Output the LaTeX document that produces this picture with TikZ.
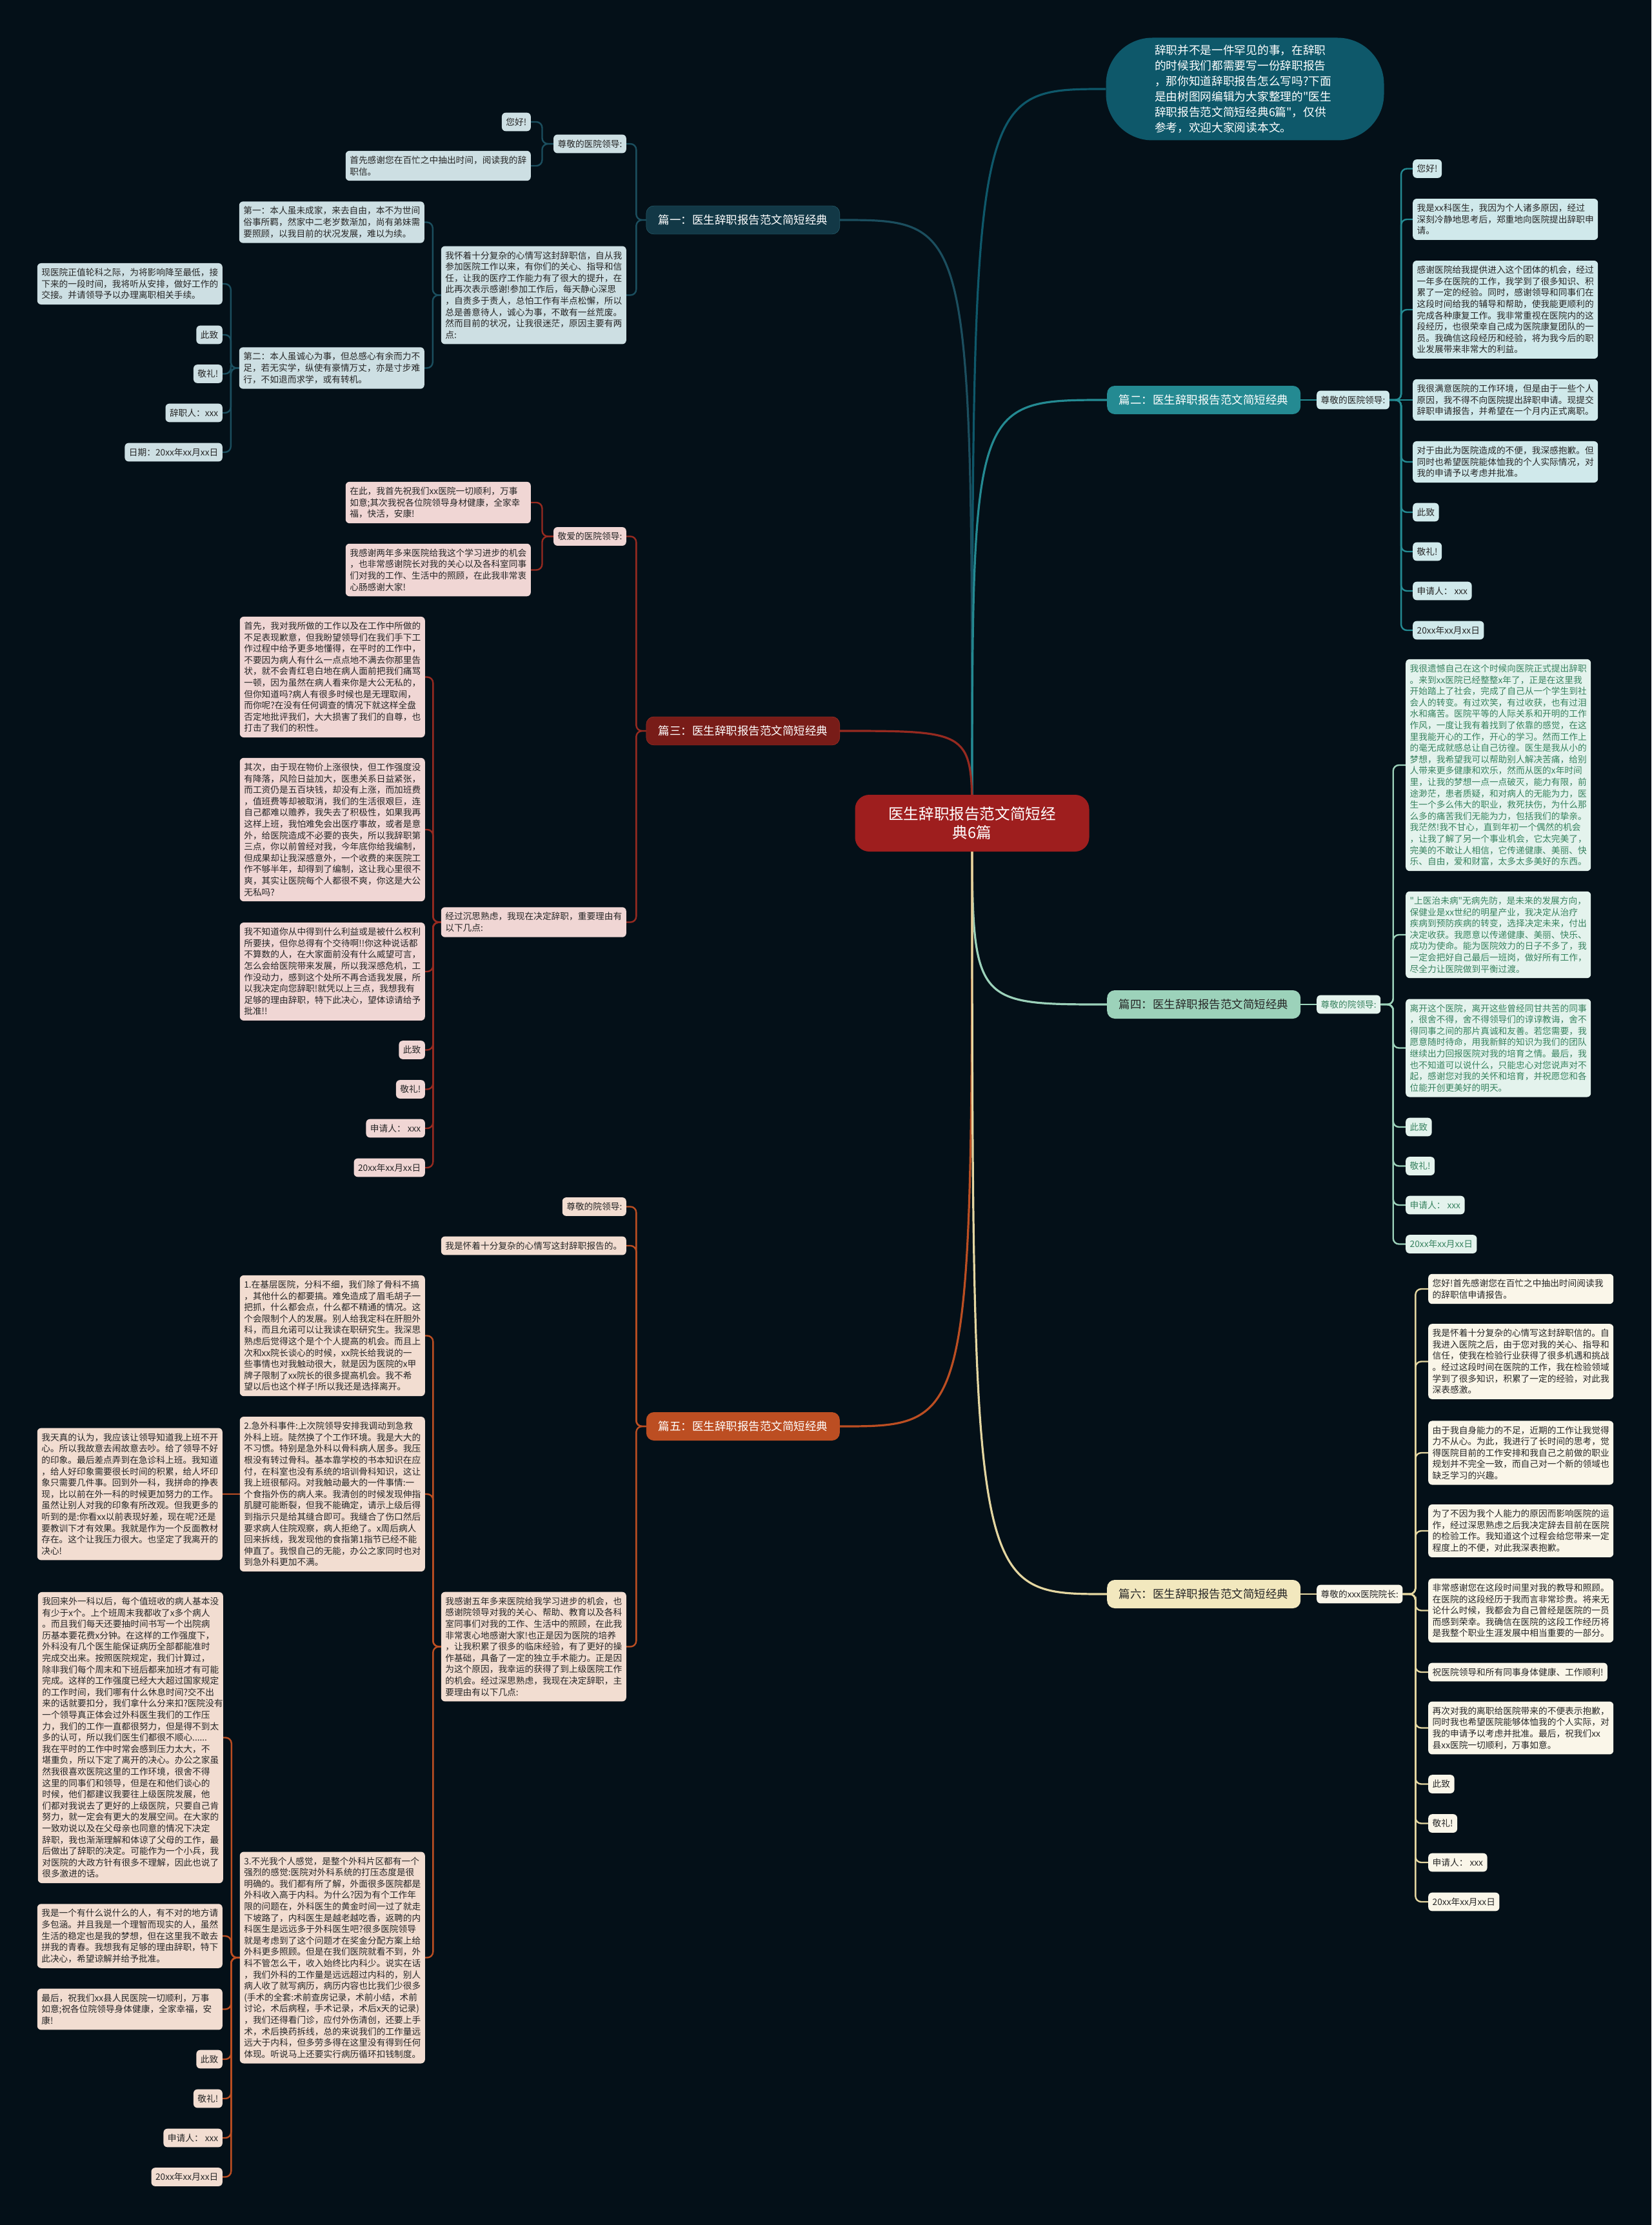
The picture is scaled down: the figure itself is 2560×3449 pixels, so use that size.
\documentclass[tikz,border=0pt]{standalone}
\usepackage{fontspec}
\setmainfont{Noto Sans CJK SC}
\usetikzlibrary{calc}

\definecolor{bgc}{RGB}{4,16,24}
\definecolor{ink}{RGB}{38,38,38}
\definecolor{ctrc}{RGB}{158,30,30}
\definecolor{introc}{RGB}{14,88,106}
\definecolor{lnA}{RGB}{27,78,94}
\definecolor{ndA}{RGB}{18,56,70}
\definecolor{lfA}{RGB}{205,223,227}
\definecolor{lnB}{RGB}{36,138,146}
\definecolor{lfB}{RGB}{208,233,235}
\definecolor{lnC}{RGB}{150,42,32}
\definecolor{ndC}{RGB}{120,28,24}
\definecolor{lfC}{RGB}{240,214,212}
\definecolor{lnD}{RGB}{156,210,186}
\definecolor{lfD}{RGB}{228,243,237}
\definecolor{txD}{RGB}{55,130,95}
\definecolor{lnE}{RGB}{188,78,34}
\definecolor{lfE}{RGB}{242,221,209}
\definecolor{lnF}{RGB}{228,214,160}
\definecolor{ndF}{RGB}{242,232,190}
\definecolor{lfF}{RGB}{250,246,233}

\pgfdeclarelayer{bg}
\pgfdeclarelayer{lines}
\pgfsetlayers{bg,lines,main}

\begin{document}
\begin{tikzpicture}[x=1pt,y=-1pt,
    leaf/.style={rounded corners=6pt, inner xsep=6.5pt, inner ysep=8pt, text=ink,
      font=\fontsize{13.7pt}{17.6pt}\selectfont},
    para/.style={leaf, text width=274pt, align=left},
    pian/.style={rounded corners=12pt, minimum width=300pt, minimum height=44pt,
      font=\fontsize{17.5pt}{21pt}\selectfont},
    link/.style={rounded corners=9pt, line width=2.4pt},
    mainline/.style={line width=3.2pt}]

    \useasboundingbox (0,0) rectangle (2560,3449);
    \begin{pgfonlayer}{bg}
      \fill[bgc] (0,0) rectangle (2560,3449);
    \end{pgfonlayer}

    % 中心主题
    \node[fill=ctrc, text=white, rounded corners=22pt, minimum width=363pt, minimum height=88pt,
      align=center, font=\fontsize{23.6pt}{29pt}\selectfont] (ctr) at (1507,1276) {医生辞职报告范文简短经\\典6篇};

    % 导语
    \node[fill=introc, text=white, rounded corners=72pt, minimum width=431pt, minimum height=159pt,
      text width=280pt, align=left, font=\fontsize{17.7pt}{24pt}\selectfont] (intro) at (1930,138)
      {辞职并不是一件罕见的事，在辞职\\
       的时候我们都需要写一份辞职报告\\
       ，那你知道辞职报告怎么写吗?下面\\
       是由树图网编辑为大家整理的\textquotedbl 医生\\
       辞职报告范文简短经典6篇\textquotedbl ，仅供\\
       参考，欢迎大家阅读本文。};

    % 六篇
    \node[pian, fill=ndA, draw={rgb,255:red,45;green,105;blue,120}, text=white, anchor=east] (b1) at (1302,341) {篇一：医生辞职报告范文简短经典};
    \node[pian, fill=lnB, text=white, anchor=west] (b2) at (1716,620) {篇二：医生辞职报告范文简短经典};
    \node[pian, fill=ndC, draw={rgb,255:red,175;green,55;blue,42}, text=white, anchor=east] (b3) at (1302,1133) {篇三：医生辞职报告范文简短经典};
    \node[pian, fill=lnD, text=ink, anchor=west] (b4) at (1716,1557) {篇四：医生辞职报告范文简短经典};
    \node[pian, fill=lnE, text=white, anchor=east] (b5) at (1302,2211) {篇五：医生辞职报告范文简短经典};
    \node[pian, fill=ndF, text=ink, anchor=west] (b6) at (1716,2471) {篇六：医生辞职报告范文简短经典};

    % 篇一
    \node[leaf, fill=lfA, anchor=east] (s11) at (971,223) {尊敬的医院领导:};
    \node[leaf, fill=lfA, anchor=east] (a111) at (823,189) {您好!};
    \node[para, fill=lfA, anchor=east] (a112) at (823,257) {首先感谢您在百忙之中抽出时间，阅读我的辞\\职信。};
    \node[para, fill=lfA, anchor=east] (s12) at (971,457.5) {我怀着十分复杂的心情写这封辞职信，自从我\\
      参加医院工作以来，有你们的关心、指导和信\\
      任，让我的医疗工作能力有了很大的提升，在\\
      此再次表示感谢!参加工作后，每天静心深思\\
      ，自责多于责人，总怕工作有半点松懈，所以\\
      总是善意待人，诚心为事，不敢有一丝荒废。\\
      然而目前的状况，让我很迷茫，原因主要有两\\
      点:};
    \node[para, fill=lfA, anchor=east] (a121) at (658,344.5) {第一：本人虽未成家，来去自由，本不为世间\\
      俗事所羁，然家中二老岁数渐加，尚有弟妹需\\
      要照顾，以我目前的状况发展，难以为续。};
    \node[para, fill=lfA, anchor=east] (a122) at (658,570.5) {第二：本人虽诚心为事，但总感心有余而力不\\
      足，若无实学，纵使有豪情万丈，亦是寸步难\\
      行，不如退而求学，或有转机。};
    \node[para, fill=lfA, anchor=east] (a1221) at (345,440) {现医院正值轮科之际，为将影响降至最低，接\\
      下来的一段时间，我将听从安排，做好工作的\\
      交接。并请领导予以办理离职相关手续。};
    \node[leaf, fill=lfA, anchor=east] (a1222) at (345,519) {此致};
    \node[leaf, fill=lfA, anchor=east] (a1223) at (345,579.5) {敬礼!};
    \node[leaf, fill=lfA, anchor=east] (a1224) at (345,640) {辞职人：xxx};
    \node[leaf, fill=lfA, anchor=east] (a1225) at (345,701) {日期：20xx年xx月xx日};

    % 篇二
    \node[leaf, fill=lfB, anchor=west] (s21) at (2041,620) {尊敬的医院领导:};
    \node[leaf, fill=lfB, anchor=west] (a21) at (2190,261.5) {您好!};
    \node[para, fill=lfB, anchor=west] (a22) at (2190,340) {我是xx科医生，我因为个人诸多原因，经过\\
      深刻冷静地思考后，郑重地向医院提出辞职申\\
      请。};
    \node[para, fill=lfB, anchor=west] (a23) at (2190,480) {感谢医院给我提供进入这个团体的机会，经过\\
      一年多在医院的工作，我学到了很多知识、积\\
      累了一定的经验。同时，感谢领导和同事们在\\
      这段时间给我的辅导和帮助，使我能更顺利的\\
      完成各种康复工作。我非常重视在医院内的这\\
      段经历，也很荣幸自己成为医院康复团队的一\\
      员。我确信这段经历和经验，将为我今后的职\\
      业发展带来非常大的利益。};
    \node[para, fill=lfB, anchor=west] (a24) at (2190,620) {我很满意医院的工作环境，但是由于一些个人\\
      原因，我不得不向医院提出辞职申请。现提交\\
      辞职申请报告，并希望在一个月内正式离职。};
    \node[para, fill=lfB, anchor=west] (a25) at (2190,716) {对于由此为医院造成的不便，我深感抱歉。但\\
      同时也希望医院能体恤我的个人实际情况，对\\
      我的申请予以考虑并批准。};
    \node[leaf, fill=lfB, anchor=west] (a26) at (2190,794) {此致};
    \node[leaf, fill=lfB, anchor=west] (a27) at (2190,855) {敬礼!};
    \node[leaf, fill=lfB, anchor=west] (a28) at (2190,916) {申请人： xxx};
    \node[leaf, fill=lfB, anchor=west] (a29) at (2190,977) {20xx年xx月xx日};

    % 篇三
    \node[leaf, fill=lfC, anchor=east] (s31) at (971,831.5) {敬爱的医院领导:};
    \node[para, fill=lfC, anchor=east] (a311) at (823,779) {在此，我首先祝我们xx医院一切顺利，万事\\
      如意;其次我祝各位院领导身材健康，全家幸\\
      福，快活，安康!};
    \node[para, fill=lfC, anchor=east] (a312) at (823,883.5) {我感谢两年多来医院给我这个学习进步的机会\\
      ，也非常感谢院长对我的关心以及各科室同事\\
      们对我的工作、生活中的照顾，在此我非常衷\\
      心肠感谢大家!};
    \node[para, fill=lfC, anchor=east] (s32) at (971,1429.5) {经过沉思熟虑，我现在决定辞职，重要理由有\\
      以下几点:};
    \node[para, fill=lfC, anchor=east] (a321) at (659,1049.5) {首先，我对我所做的工作以及在工作中所做的\\
      不足表现歉意，但我盼望领导们在我们手下工\\
      作过程中给予更多地懂得，在平时的工作中，\\
      不要因为病人有什么一点点地不满去你那里告\\
      状，就不会青红皂白地在病人面前把我们痛骂\\
      一顿，因为虽然在病人看来你是大公无私的，\\
      但你知道吗?病人有很多时候也是无理取闹，\\
      而你呢?在没有任何调查的情况下就这样全盘\\
      否定地批评我们，大大损害了我们的自尊，也\\
      打击了我们的积性。};
    \node[para, fill=lfC, anchor=east] (a322) at (659,1286) {其次，由于现在物价上涨很快，但工作强度没\\
      有降落，风险日益加大，医患关系日益紧张，\\
      而工资仍是五百块钱，却没有上涨，而加班费\\
      ，值班费等却被取消，我们的生活很艰巨，连\\
      自己都难以赡养，我失去了积极性，如果我再\\
      这样上班，我怕难免会出医疗事故，或者是意\\
      外，给医院造成不必要的丧失，所以我辞职第\\
      三点，你以前曾经对我，今年底你给我编制，\\
      但成果却让我深感意外，一个收费的来医院工\\
      作不够半年，却得到了编制，这让我心里很不\\
      爽，其实让医院每个人都很不爽，你这是大公\\
      无私吗?};
    \node[para, fill=lfC, anchor=east] (a323) at (659,1506) {我不知道你从中得到什么利益或是被什么权利\\
      所要挟，但你总得有个交待啊!!你这种说话都\\
      不算数的人，在大家面前没有什么威望可言，\\
      怎么会给医院带来发展，所以我深感危机，工\\
      作没动力，感到这个处所不再合适我发展，所\\
      以我决定向您辞职!就凭以上三点，我想我有\\
      足够的理由辞职，特下此决心，望体谅请给予\\
      批准!!};
    \node[leaf, fill=lfC, anchor=east] (a324) at (659,1627.5) {此致};
    \node[leaf, fill=lfC, anchor=east] (a325) at (659,1688.5) {敬礼!};
    \node[leaf, fill=lfC, anchor=east] (a326) at (659,1749) {申请人： xxx};
    \node[leaf, fill=lfC, anchor=east] (a327) at (659,1810) {20xx年xx月xx日};

    % 篇四
    \node[leaf, fill=lfD, text=txD, anchor=west] (s41) at (2041,1557) {尊敬的院领导:};
    \node[para, fill=lfD, text=txD, anchor=west] (a41) at (2179,1186) {我很遗憾自己在这个时候向医院正式提出辞职\\
      。来到xx医院已经整整x年了，正是在这里我\\
      开始踏上了社会，完成了自己从一个学生到社\\
      会人的转变。有过欢笑，有过收获，也有过泪\\
      水和痛苦。医院平等的人际关系和开明的工作\\
      作风，一度让我有着找到了依靠的感觉，在这\\
      里我能开心的工作，开心的学习。然而工作上\\
      的毫无成就感总让自己彷徨。医生是我从小的\\
      梦想，我希望我可以帮助别人解决苦痛，给别\\
      人带来更多健康和欢乐，然而从医的x年时间\\
      里，让我的梦想一点一点破灭，能力有限，前\\
      途渺茫，患者质疑，和对病人的无能为力，医\\
      生一个多么伟大的职业，救死扶伤，为什么那\\
      么多的痛苦我们无能为力，包括我们的挚亲。\\
      我茫然!我不甘心，直到年初一个偶然的机会\\
      ，让我了解了另一个事业机会，它太完美了，\\
      完美的不敢让人相信，它传递健康、美丽、快\\
      乐、自由，爱和财富，太多太多美好的东西。};
    \node[para, fill=lfD, text=txD, anchor=west] (a42) at (2179,1449) {\textquotedbl 上医治未病\textquotedbl 无病先防，是未来的发展方向，\\
      保健业是xx世纪的明星产业，我决定从治疗\\
      疾病到预防疾病的转变，选择决定未来，付出\\
      决定收获。我愿意以传递健康、美丽、快乐、\\
      成功为使命。能为医院效力的日子不多了，我\\
      一定会把好自己最后一班岗，做好所有工作，\\
      尽全力让医院做到平衡过渡。};
    \node[para, fill=lfD, text=txD, anchor=west] (a43) at (2179,1624.5) {离开这个医院，离开这些曾经同甘共苦的同事\\
      ，很舍不得，舍不得领导们的谆谆教诲，舍不\\
      得同事之间的那片真诚和友善。若您需要，我\\
      愿意随时待命，用我新鲜的知识为我们的团队\\
      继续出力回报医院对我的培育之情。最后，我\\
      也不知道可以说什么，只能忠心对您说声对不\\
      起，感谢您对我的关怀和培育，并祝愿您和各\\
      位能开创更美好的明天。};
    \node[leaf, fill=lfD, text=txD, anchor=west] (a44) at (2179,1747) {此致};
    \node[leaf, fill=lfD, text=txD, anchor=west] (a45) at (2179,1807.5) {敬礼!};
    \node[leaf, fill=lfD, text=txD, anchor=west] (a46) at (2179,1868) {申请人： xxx};
    \node[leaf, fill=lfD, text=txD, anchor=west] (a47) at (2179,1928.5) {20xx年xx月xx日};

    % 篇五
    \node[leaf, fill=lfE, anchor=east] (s51) at (971,1870.5) {尊敬的院领导:};
    \node[leaf, fill=lfE, anchor=east] (s52) at (971,1931) {我是怀着十分复杂的心情写这封辞职报告的。};
    \node[para, fill=lfE, anchor=east] (s53) at (971,2552.5) {我感谢五年多来医院给我学习进步的机会，也\\
      感谢院领导对我的关心、帮助、教育以及各科\\
      室同事们对我的工作、生活中的照顾，在此我\\
      非常衷心地感谢大家!也正是因为医院的培养\\
      ，让我积累了很多的临床经验，有了更好的操\\
      作基础，具备了一定的独立手术能力。正是因\\
      为这个原因，我幸运的获得了到上级医院工作\\
      的机会。经过深思熟虑，我现在决定辞职，主\\
      要理由有以下几点:};
    \node[para, fill=lfE, anchor=east] (a531) at (659,2070.5) {1.在基层医院，分科不细，我们除了骨科不搞\\
      ，其他什么的都要搞。难免造成了眉毛胡子一\\
      把抓，什么都会点，什么都不精通的情况。这\\
      个会限制个人的发展。别人给我定科在肝胆外\\
      科，而且允诺可以让我读在职研究生。我深思\\
      熟虑后觉得这个是个个人提高的机会。而且上\\
      次和xx院长谈心的时候，xx院长给我说的一\\
      些事情也对我触动很大，就是因为医院的x甲\\
      牌子限制了xx院长的很多提高机会。我不希\\
      望以后也这个样子!所以我还是选择离开。};
    \node[para, fill=lfE, anchor=east] (a532) at (659,2316) {2.急外科事件:上次院领导安排我调动到急救\\
      外科上班。陡然换了个工作环境。我是大大的\\
      不习惯。特别是急外科以骨科病人居多。我压\\
      根没有转过骨科。基本靠学校的书本知识在应\\
      付，在科室也没有系统的培训骨科知识，这让\\
      我上班很郁闷。对我触动最大的一件事情:一\\
      个食指外伤的病人来。我清创的时候发现伸指\\
      肌腱可能断裂，但我不能确定，请示上级后得\\
      到指示只是给其缝合即可。我缝合了伤口然后\\
      要求病人住院观察，病人拒绝了。x周后病人\\
      回来拆线，我发现他的食指第1指节已经不能\\
      伸直了。我恨自己的无能，办公之家同时也对\\
      到急外科更加不满。};
    \node[para, fill=lfE, anchor=east] (a5321) at (345,2316) {我天真的认为，我应该让领导知道我上班不开\\
      心。所以我故意去闹故意去吵。给了领导不好\\
      的印象。最后差点弄到在急诊科上班。我知道\\
      ，给人好印象需要很长时间的积累，给人坏印\\
      象只需要几件事。回到外一科，我拼命的挣表\\
      现，比以前在外一科的时候更加努力的工作。\\
      虽然让别人对我的印象有所改观。但我更多的\\
      听到的是:你看xx以前表现好差，现在呢?还是\\
      要教训下才有效果。我就是作为一个反面教材\\
      存在。这个让我压力很大。也坚定了我离开的\\
      决心!};
    \node[para, fill=lfE, anchor=east] (a533) at (659,3034.5) {3.不光我个人感觉，是整个外科片区都有一个\\
      强烈的感觉:医院对外科系统的打压态度是很\\
      明确的。我们都有所了解，外面很多医院都是\\
      外科收入高于内科。为什么?因为有个工作年\\
      限的问题在，外科医生的黄金时间一过了就走\\
      下坡路了，内科医生是越老越吃香，返聘的内\\
      科医生是远远多于外科医生吧?很多医院领导\\
      就是考虑到了这个问题才在奖金分配方案上给\\
      外科更多照顾。但是在我们医院就看不到，外\\
      科不管怎么干，收入始终比内科少。说实在话\\
      ，我们外科的工作量是远远超过内科的，别人\\
      病人收了就写病历，病历内容也比我们少很多\\
      (手术的全套:术前查房记录，术前小结，术前\\
      讨论，术后病程，手术记录，术后x天的记录)\\
      ，我们还得看门诊，应付外伤清创，还要上手\\
      术，术后换药拆线，总的来说我们的工作量远\\
      远大于内科，但多劳多得在这里没有得到任何\\
      体现。听说马上还要实行病历循环扣钱制度。};
    \node[para, fill=lfE, anchor=east] (a5331) at (346,2693.5) {我回来外一科以后，每个值班收的病人基本没\\
      有少于x个。上个班周末我都收了x多个病人\\
      。而且我们每天还要抽时间书写一个出院病\\
      历基本要花费x分钟。在这样的工作强度下，\\
      外科没有几个医生能保证病历全部都能准时\\
      完成交出来。按照医院规定，我们计算过，\\
      除非我们每个周末和下班后都来加班才有可能\\
      完成。这样的工作强度已经大大超过国家规定\\
      的工作时间，我们哪有什么休息时间?交不出\\
      来的话就要扣分，我们拿什么分来扣?医院没有\\
      一个领导真正体会过外科医生我们的工作压\\
      力，我们的工作一直都很努力，但是得不到太\\
      多的认可，所以我们医生们都很不顺心......\\
      我在平时的工作中时常会感到压力太大，不\\
      堪重负，所以下定了离开的决心。办公之家虽\\
      然我很喜欢医院这里的工作环境，很舍不得\\
      这里的同事们和领导，但是在和他们谈心的\\
      时候，他们都建议我要往上级医院发展，他\\
      们都对我说去了更好的上级医院，只要自己肯\\
      努力，就一定会有更大的发展空间。在大家的\\
      一致劝说以及在父母亲也同意的情况下决定\\
      辞职，我也渐渐理解和体谅了父母的工作，最\\
      后做出了辞职的决定。可能作为一个小兵，我\\
      对医院的大政方针有很多不理解，因此也说了\\
      很多激进的话。};
    \node[para, fill=lfE, anchor=east] (a5332) at (345,3001) {我是一个有什么说什么的人，有不对的地方请\\
      多包涵。并且我是一个理智而现实的人，虽然\\
      生活的稳定也是我的梦想，但在这里我不敢去\\
      拼我的青春。我想我有足够的理由辞职，特下\\
      此决心，希望谅解并给予批准。};
    \node[para, fill=lfE, anchor=east] (a5333) at (345,3114.5) {最后，祝我们xx县人民医院一切顺利，万事\\
      如意;祝各位院领导身体健康，全家幸福，安\\
      康!};
    \node[leaf, fill=lfE, anchor=east] (a5334) at (345,3192) {此致};
    \node[leaf, fill=lfE, anchor=east] (a5335) at (345,3253) {敬礼!};
    \node[leaf, fill=lfE, anchor=east] (a5336) at (345,3314) {申请人： xxx};
    \node[leaf, fill=lfE, anchor=east] (a5337) at (345,3374.5) {20xx年xx月xx日};

    % 篇六
    \node[leaf, fill=lfF, anchor=west] (s61) at (2041,2471) {尊敬的xxx医院院长:};
    \node[para, fill=lfF, anchor=west] (a61) at (2214,1998) {您好!首先感谢您在百忙之中抽出时间阅读我\\
      的辞职信申请报告。};
    \node[para, fill=lfF, anchor=west] (a62) at (2214,2110.5) {我是怀着十分复杂的心情写这封辞职信的。自\\
      我进入医院之后，由于您对我的关心、指导和\\
      信任，使我在检验行业获得了很多机遇和挑战\\
      。经过这段时间在医院的工作，我在检验领域\\
      学到了很多知识，积累了一定的经验，对此我\\
      深表感激。};
    \node[para, fill=lfF, anchor=west] (a63) at (2214,2252) {由于我自身能力的不足，近期的工作让我觉得\\
      力不从心。为此，我进行了长时间的思考，觉\\
      得医院目前的工作安排和我自己之前做的职业\\
      规划并不完全一致，而自己对一个新的领域也\\
      缺乏学习的兴趣。};
    \node[para, fill=lfF, anchor=west] (a64) at (2214,2373) {为了不因为我个人能力的原因而影响医院的运\\
      作，经过深思熟虑之后我决定辞去目前在医院\\
      的检验工作。我知道这个过程会给您带来一定\\
      程度上的不便，对此我深表抱歉。};
    \node[para, fill=lfF, anchor=west] (a65) at (2214,2496.5) {非常感谢您在这段时间里对我的教导和照顾。\\
      在医院的这段经历于我而言非常珍贵。将来无\\
      论什么时候，我都会为自己曾经是医院的一员\\
      而感到荣幸。我确信在医院的这段工作经历将\\
      是我整个职业生涯发展中相当重要的一部分。};
    \node[leaf, fill=lfF, anchor=west] (a66) at (2214,2592) {祝医院领导和所有同事身体健康、工作顺利!};
    \node[para, fill=lfF, anchor=west] (a67) at (2214,2678.5) {再次对我的离职给医院带来的不便表示抱歉，\\
      同时我也希望医院能够体恤我的个人实际，对\\
      我的申请予以考虑并批准。最后，祝我们xx\\
      县xx医院一切顺利，万事如意。};
    \node[leaf, fill=lfF, anchor=west] (a68) at (2214,2765.5) {此致};
    \node[leaf, fill=lfF, anchor=west] (a69) at (2214,2826.5) {敬礼!};
    \node[leaf, fill=lfF, anchor=west] (a610) at (2214,2887) {申请人： xxx};
    \node[leaf, fill=lfF, anchor=west] (a611) at (2214,2948) {20xx年xx月xx日};

    \begin{pgfonlayer}{lines}
      % 中心连线
      \draw[mainline, introc] (ctr.center) .. controls (ctr.center |- intro.west) .. (intro.west);
      \draw[mainline, lnA] (ctr.center) .. controls (ctr.center |- b1.east) .. (b1.east);
      \draw[mainline, lnB] (ctr.center) .. controls (ctr.center |- b2.west) .. (b2.west);
      \draw[mainline, lnC] (ctr.center) .. controls (ctr.center |- b3.east) .. (b3.east);
      \draw[mainline, lnD] (ctr.center) .. controls (ctr.center |- b4.west) .. (b4.west);
      \draw[mainline, lnE] (ctr.center) .. controls (ctr.center |- b5.east) .. (b5.east);
      \draw[mainline, lnF] (ctr.center) .. controls (ctr.center |- b6.west) .. (b6.west);

      % 左侧分支
      \foreach \fu/\zi in {b1/s11, b1/s12, s11/a111, s11/a112, s12/a121, s12/a122,
          a122/a1221, a122/a1222, a122/a1223, a122/a1224, a122/a1225}
        \draw[link, lnA] (\fu.west) -| ($(\fu.west)!.5!(\zi.east)$) |- (\zi.east);
      \foreach \fu/\zi in {b3/s31, b3/s32, s31/a311, s31/a312, s32/a321, s32/a322,
          s32/a323, s32/a324, s32/a325, s32/a326, s32/a327}
        \draw[link, lnC] (\fu.west) -| ($(\fu.west)!.5!(\zi.east)$) |- (\zi.east);
      \foreach \fu/\zi in {b5/s51, b5/s52, b5/s53, s53/a531, s53/a532, s53/a533,
          a533/a5331, a533/a5332, a533/a5333, a533/a5334, a533/a5335, a533/a5336, a533/a5337}
        \draw[link, lnE] (\fu.west) -| ($(\fu.west)!.5!(\zi.east)$) |- (\zi.east);
      \draw[link, lnE] (a532.west) -- (a5321.east);

      % 右侧分支
      \draw[link, lnB] (b2.east) -- (s21.west);
      \draw[link, lnB] (s21.east) -- (a24.west);
      \foreach \zi in {a21, a22, a23, a25, a26, a27, a28, a29}
        \draw[link, lnB] (s21.east) -| ($(s21.east)!.5!(\zi.west)$) |- (\zi.west);
      \draw[link, lnD] (b4.east) -- (s41.west);
      \foreach \zi in {a41, a42, a43, a44, a45, a46, a47}
        \draw[link, lnD] (s41.east) -| ($(s41.east)!.5!(\zi.west)$) |- (\zi.west);
      \draw[link, lnF] (b6.east) -- (s61.west);
      \foreach \zi in {a61, a62, a63, a64, a65, a66, a67, a68, a69, a610, a611}
        \draw[link, lnF] (s61.east) -| ($(s61.east)!.5!(\zi.west)$) |- (\zi.west);
    \end{pgfonlayer}

  \end{tikzpicture}
\end{document}
